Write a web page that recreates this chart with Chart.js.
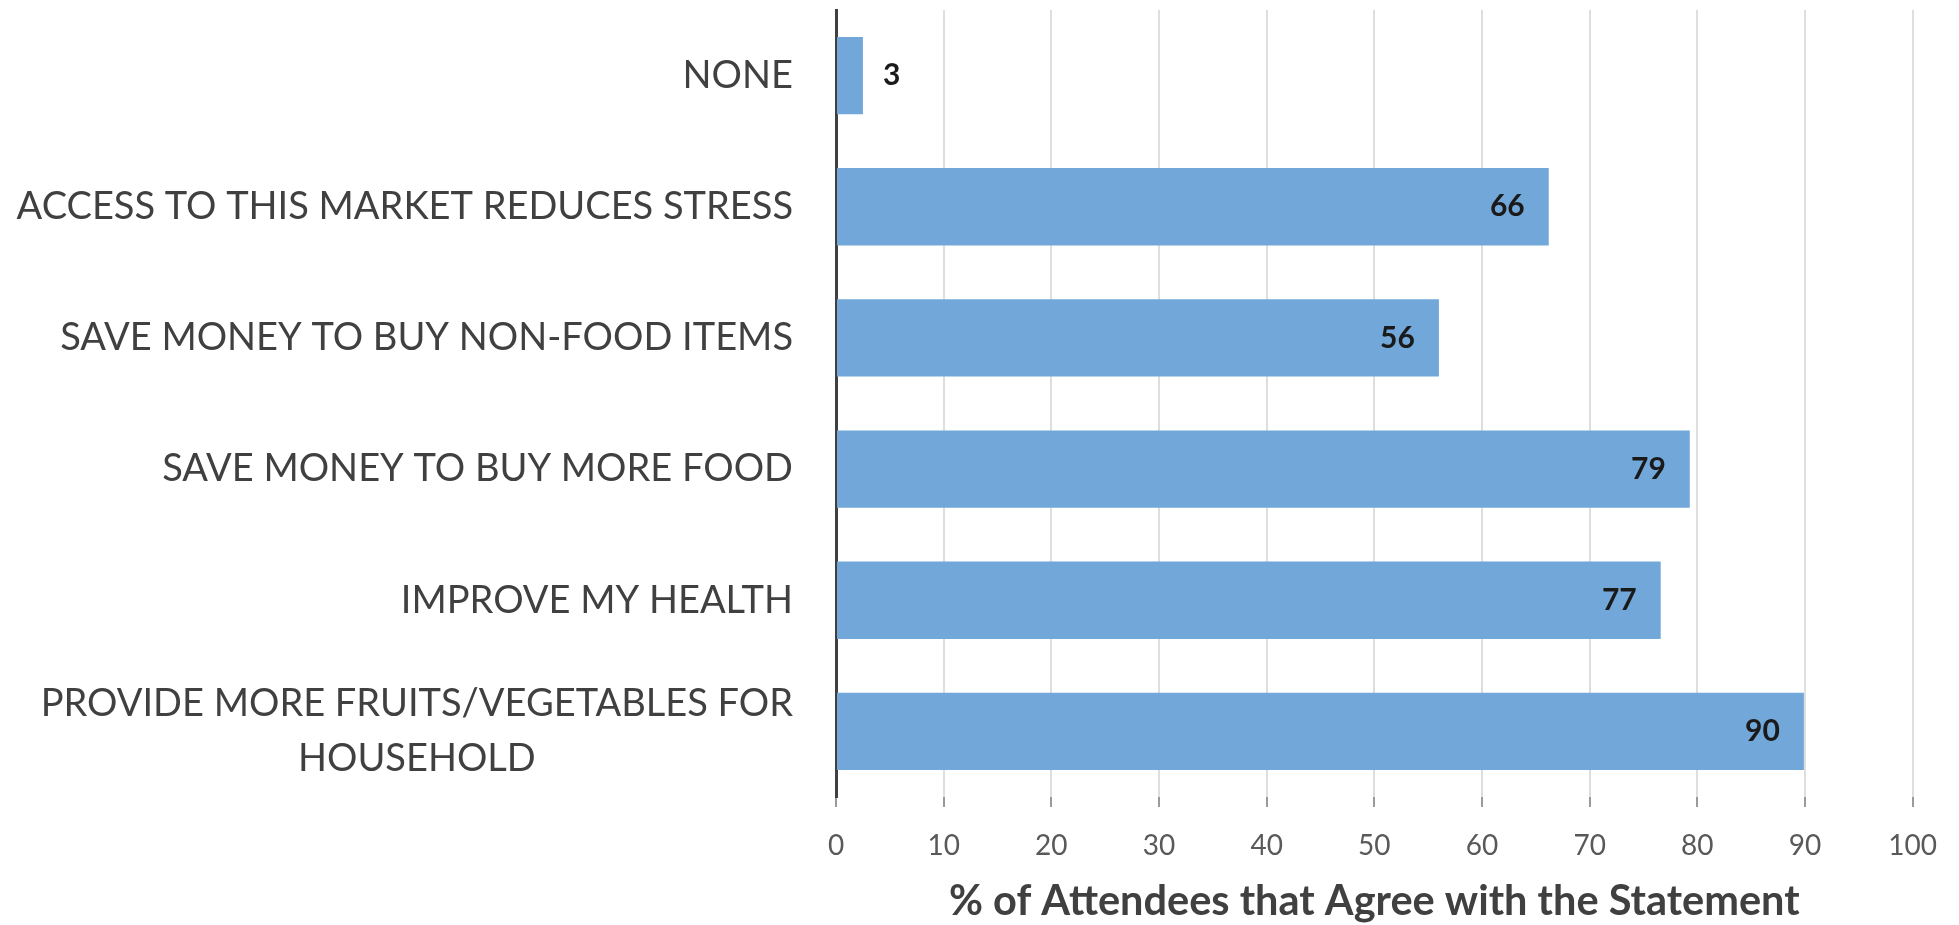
<!DOCTYPE html>
<html>
<head>
<meta charset="utf-8">
<script src="https://cdn.jsdelivr.net/npm/chart.js@4.4.1/dist/chart.umd.min.js"></script>
<style>
    html, body { margin: 0; padding: 0; background: #fff; }
    #wrap { width: 1959px; height: 925px; }
</style>
</head>
<body>
<div id="wrap"><canvas id="agreeChart"></canvas></div>
<script>
// Categories (top to bottom), multi-line labels as arrays
const statements = [
    ['NONE'],
    ['ACCESS TO THIS MARKET REDUCES STRESS'],
    ['SAVE MONEY TO BUY NON-FOOD ITEMS'],
    ['SAVE MONEY TO BUY MORE FOOD'],
    ['IMPROVE MY HEALTH'],
    ['PROVIDE MORE FRUITS/VEGETABLES FOR', 'HOUSEHOLD']
];

// % of attendees agreeing
const agreePct = [2.5, 66.2, 56.0, 79.3, 76.6, 89.9];

// x axis ticks
const xTicks = [0, 10, 20, 30, 40, 50, 60, 70, 80, 90, 100];

const axisTitle = '% of Attendees that Agree with the Statement';

// Draws the category labels left of the axis (block right-aligned, lines centered)
const categoryLabels = {
    id: 'categoryLabels',
    afterDraw(chart) {
        const ctx = chart.ctx;
        const yScale = chart.scales.y;
        const rightEdge = chart.chartArea.left - 43;
        const lineH = 55;
        ctx.save();
        ctx.font = '38px Lato';
        ctx.fillStyle = '#404040';
        ctx.textBaseline = 'middle';
        ctx.textAlign = 'center';
        statements.forEach((lines, i) => {
            const y = yScale.getPixelForValue(i);
            const w = Math.max(...lines.map(l => ctx.measureText(l).width));
            const cx = rightEdge - w / 2;
            lines.forEach((l, j) => {
                ctx.fillText(l, cx, y + (j - (lines.length - 1) / 2) * lineH);
            });
        });
        ctx.restore();
    }
};

// Value labels: inside the bar end, or just outside for short bars
const valueLabels = {
    id: 'valueLabels',
    afterDatasetsDraw(chart) {
        const ctx = chart.ctx;
        const meta = chart.getDatasetMeta(0);
        ctx.save();
        ctx.font = 'bold 30px Lato';
        ctx.fillStyle = '#1a1a1a';
        ctx.textBaseline = 'middle';
        meta.data.forEach((bar, i) => {
            const v = Math.round(agreePct[i]);
            if (agreePct[i] < 10) {
                ctx.textAlign = 'left';
                ctx.fillText(v, bar.x + 20, bar.y);
            } else {
                ctx.textAlign = 'right';
                ctx.fillText(v, bar.x - 24, bar.y);
            }
        });
        ctx.restore();
    }
};

const ctx = document.getElementById('agreeChart').getContext('2d');
new Chart(ctx, {
    type: 'bar',
    data: {
        labels: statements,
        datasets: [{
            data: agreePct,
            backgroundColor: '#72a7d9',
            borderWidth: 0,
            categoryPercentage: 1,
            barPercentage: 0.59
        }]
    },
    options: {
        indexAxis: 'y',
        responsive: true,
        maintainAspectRatio: false,
        animation: false,
        layout: {
            padding: { left: 836, right: 44, top: 10, bottom: 0 }
        },
        scales: {
            x: {
                min: 0,
                max: 100,
                z: 1,
                afterBuildTicks: (scale) => {
                    scale.ticks = xTicks.map(v => ({ value: v }));
                },
                afterFit: (scale) => {
                    scale.height = 128;
                },
                grid: {
                    color: 'rgba(0,0,0,0.13)',
                    lineWidth: 2,
                    tickColor: '#9a9a9a',
                    tickLength: 10
                },
                border: { display: false },
                ticks: {
                    color: '#595959',
                    font: { family: 'Lato', size: 28 },
                    padding: 22
                },
                title: {
                    display: true,
                    text: axisTitle,
                    color: '#404040',
                    font: { family: 'Lato', size: 41.5, weight: 'bold' },
                    padding: { top: 0, bottom: -2 }
                }
            },
            y: {
                grid: { display: false, drawTicks: false },
                border: { display: true, color: '#404040', width: 3 },
                ticks: { display: false }
            }
        },
        plugins: {
            legend: { display: false },
            tooltip: { enabled: false }
        }
    },
    plugins: [categoryLabels, valueLabels]
});
</script>
</body>
</html>
